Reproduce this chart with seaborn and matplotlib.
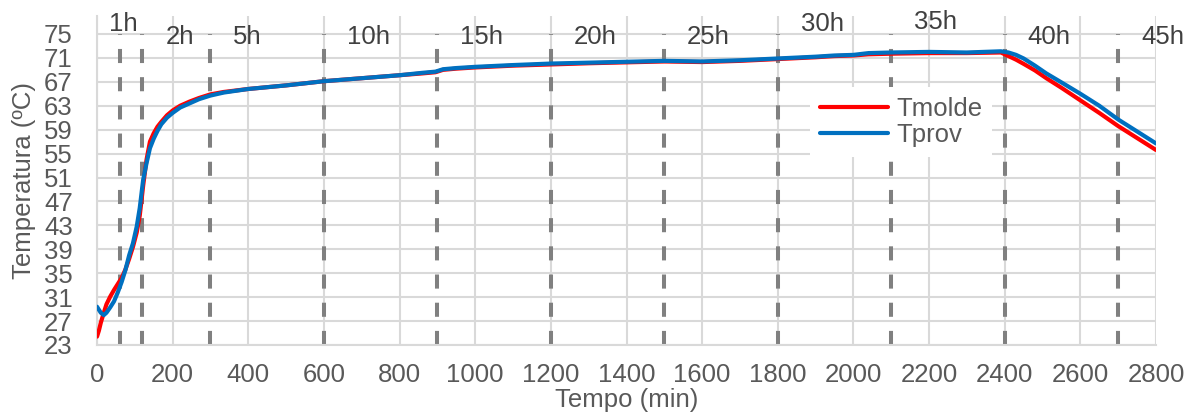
import matplotlib
matplotlib.use("Agg")
import matplotlib.pyplot as plt
import pandas as pd
import seaborn as sns

# Measured temperatures over the cure cycle (minutes, degrees C)
tempo_min = [0, 5, 10, 18, 25, 35, 45, 55, 65, 75, 85, 95, 105, 113, 122, 131,
             140, 150, 160, 170, 185, 200, 220, 245, 270, 300, 335, 400, 500,
             600, 700, 800, 860, 895, 915, 950, 1000, 1100, 1200, 1300, 1400,
             1500, 1600, 1700, 1800, 1900, 1950, 2000, 2040, 2100, 2200, 2300,
             2390, 2410, 2430, 2450, 2480, 2510, 2550, 2600, 2650, 2700, 2750,
             2800]

t_molde = [24.4, 25.4, 26.7, 28.4, 29.8, 31.1, 32.2, 33.2, 34.2, 35.6, 37.4,
           39.4, 41.8, 44.6, 49.6, 54.0, 57.0, 58.4, 59.5, 60.3, 61.4, 62.2,
           63.0, 63.7, 64.3, 64.9, 65.3, 65.8, 66.4, 67.1, 67.6, 68.1, 68.4,
           68.6, 69.0, 69.2, 69.4, 69.7, 69.9, 70.1, 70.25, 70.4, 70.3, 70.5,
           70.8, 71.1, 71.3, 71.4, 71.6, 71.7, 71.8, 71.8, 71.9, 71.3, 70.7,
           70.0, 68.9, 67.6, 66.0, 63.9, 61.8, 59.6, 57.6, 55.6]

t_prov = [29.4, 28.9, 28.4, 28.0, 28.4, 29.3, 30.3, 31.8, 33.5, 35.5, 38.0,
          40.0, 42.8, 45.9, 50.6, 53.4, 55.9, 57.5, 58.8, 59.9, 61.0, 61.8,
          62.7, 63.4, 64.1, 64.7, 65.2, 65.8, 66.4, 67.1, 67.6, 68.1, 68.5,
          68.7, 69.1, 69.3, 69.5, 69.8, 70.05, 70.2, 70.35, 70.5, 70.4, 70.6,
          70.9, 71.2, 71.4, 71.5, 71.8, 71.9, 72.0, 71.9, 72.1, 71.9, 71.5,
          70.9, 69.7, 68.4, 66.9, 65.0, 63.0, 60.7, 58.7, 56.7]

series = ["Tmolde", "Tprov"]
cores = {"Tmolde": "#FF0000", "Tprov": "#0070C0"}

# Elapsed-hour markers
marcas_min = [60, 120, 300, 600, 900, 1200, 1500, 1800, 2100, 2400, 2700]
marcas_txt = ["1h", "2h", "5h", "10h", "15h", "20h", "25h", "30h", "35h",
              "40h", "45h"]

y_ticks = list(range(23, 76, 4))
x_ticks = list(range(0, 2801, 200))

df = pd.DataFrame({
    "Tempo (min)": tempo_min * 2,
    "Temperatura": t_molde + t_prov,
    "Série": [series[0]] * len(tempo_min) + [series[1]] * len(tempo_min),
})

sns.set_theme(style="white")
plt.rcParams["font.family"] = ["Liberation Sans", "DejaVu Sans"]

FS = 18.5
GRID = "#D9D9D9"
TXT = "#595959"

fig = plt.figure(figsize=(11.96, 4.12), dpi=100)
ax = fig.add_axes([97 / 1196, 1 - 345 / 412, (1156 - 97) / 1196, (345 - 16) / 412])

ax.set_xlim(0, 2800)
ax.set_ylim(23, 78)
ax.set_xticks(x_ticks)
ax.set_yticks(y_ticks)
ax.grid(True, color=GRID, linewidth=1.5)
ax.set_axisbelow(True)
for side in ("top", "right"):
    ax.spines[side].set_visible(False)
for side in ("left", "bottom"):
    ax.spines[side].set_color(GRID)
    ax.spines[side].set_linewidth(1.5)

# hour markers: dashed grey verticals from the floor to 75 ºC
ax.vlines(marcas_min, 23, 75, colors="#808080", linewidth=2.9,
          linestyles=[(0, (3.5, 3.5))], zorder=2)

offsets = {"1h": (-8, 7), "30h": (16.5, 7), "35h": (16.5, 8.5)}
for m, txt in zip(marcas_min, marcas_txt):
    dx, dy = offsets.get(txt, (16.5, -2))
    ax.annotate(txt, xy=(m, 75), xytext=(dx, dy), textcoords="offset points",
                ha="left", va="center", fontsize=FS, color="#404040",
                annotation_clip=False, zorder=3)

sns.lineplot(data=df, x="Tempo (min)", y="Temperatura", hue="Série",
             hue_order=series, palette=cores, linewidth=3, estimator=None,
             ax=ax, zorder=4)

ax.tick_params(axis="both", length=0, labelsize=FS, labelcolor=TXT)
ax.tick_params(axis="x", pad=13)
ax.tick_params(axis="y", pad=17.5)
ax.set_xlabel("Tempo (min)", fontsize=FS, color=TXT, labelpad=0.5)
ax.set_ylabel("Temperatura (ºC)", fontsize=FS, color=TXT, labelpad=6)

handles, labels = ax.get_legend_handles_labels()
for h in handles:
    h.set_linewidth(3)
leg = ax.legend(handles, labels, loc="upper left",
                bbox_to_anchor=(810 / 1196, 1 - 87 / 412),
                bbox_transform=fig.transFigure, frameon=True, fancybox=False,
                facecolor="white", edgecolor="none", framealpha=1,
                fontsize=FS, handlelength=2.65, handletextpad=0.3,
                labelspacing=0.05, borderpad=0.4, borderaxespad=0)
for t in leg.get_texts():
    t.set_color(TXT)

fig.savefig("out.png", dpi=100)
